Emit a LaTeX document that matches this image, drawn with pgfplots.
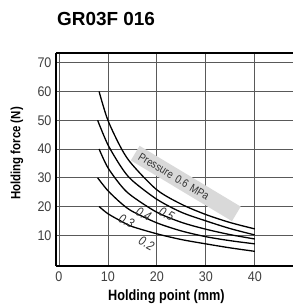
\documentclass[border=0pt]{standalone}
\usepackage{fontspec}
\setmainfont{Liberation Sans}[FakeStretch=0.85]
\newfontfamily\tickfont{Liberation Sans}[FakeStretch=0.9]
\newfontfamily\titlefont{Liberation Sans}
\usepackage{pgfplots}
\pgfplotsset{compat=1.18}
\begin{document}
\begin{tikzpicture}
\begin{axis}[
  at={(0,0)}, anchor=south west,
  scale only axis, width=237bp, height=213bp,
  xmin=-0.6, xmax=47.8, ymin=-0.7, ymax=73.4,
  axis x line=box, axis y line=left,
  axis line style={line width=1.3bp, -},
  xtick={0,10,20,30,40}, ytick={10,20,30,40,50,60,70},
  major tick length=0pt,
  grid=major, major grid style={line width=0.8bp, black!65},
  tick label style={font=\tickfont\fontsize{14}{16}\selectfont, text=black!75},
  /pgf/number format/assume math mode=true,
  xticklabel style={yshift=-2bp},
  yticklabel style={xshift=-1bp},
  xlabel={\bfseries Holding point (mm)},
  ylabel={\bfseries Holding force (N)},
  x label style={at={(axis description cs:0.466,-0.16)}, anchor=base, font=\fontsize{15}{17}\selectfont},
  y label style={at={(axis description cs:-0.165,0.528)}, anchor=center, font=\fontsize{13.5}{15}\selectfont},
  clip=false,
]
\addplot[black, line width=1.3bp, smooth] coordinates {(8.2,60)(10,50)(12.8,40)(15,34.5)(20,25.8)(25,20.8)(30,17.2)(35,14.4)(40,12.2)};
\addplot[black, line width=1.3bp, smooth] coordinates {(7.9,50)(10,41.5)(12.8,33.5)(15,29)(20,22.5)(25,18)(30,15)(35,12.3)(40,10.1)};
\addplot[black, line width=1.3bp, smooth] coordinates {(8.2,40)(10,33.5)(12.8,27)(15,23.5)(20,18)(25,14.5)(30,12.1)(35,10.2)(40,8.7)};
\addplot[black, line width=1.3bp, smooth] coordinates {(7.9,30)(10,25.5)(12.8,21)(15,18.3)(20,14.3)(25,11.5)(30,9.5)(35,8.1)(40,7.0)};
\addplot[black, line width=1.3bp, smooth] coordinates {(8.2,20)(10,17.5)(12.8,14.8)(15,13)(20,10.5)(25,8.5)(30,7)(35,5.6)(40,4.4)};
\node[fill=black!15, rotate=-31, text width=108bp, inner xsep=5bp, inner ysep=3bp, minimum height=17bp, align=left,
      font=\fontsize{11.5}{13}\selectfont, text=black!80] at (axis cs:25.9,28) {Pressure 0.6 MPa};
\node[rotate=-28, font=\fontsize{13}{14}\selectfont\itshape, text=black!80] at (axis cs:22,17.3) {0.5};
\node[rotate=-28, font=\fontsize{13}{14}\selectfont\itshape, text=black!80] at (axis cs:17.3,17.3) {0.4};
\node[rotate=-28, font=\fontsize{13}{14}\selectfont\itshape, text=black!80] at (axis cs:13.8,15) {0.3};
\node[rotate=-28, font=\fontsize{13}{14}\selectfont\itshape, text=black!80] at (axis cs:17.9,7.1) {0.2};
\end{axis}
\node[anchor=base west, inner sep=0pt, font=\titlefont\bfseries\fontsize{19}{22}\selectfont] at (1bp,240bp) {GR03F 016};
\pgfresetboundingbox
\path[use as bounding box] (-56bp,-41bp) rectangle (237bp,266bp);
\end{tikzpicture}
\end{document}
